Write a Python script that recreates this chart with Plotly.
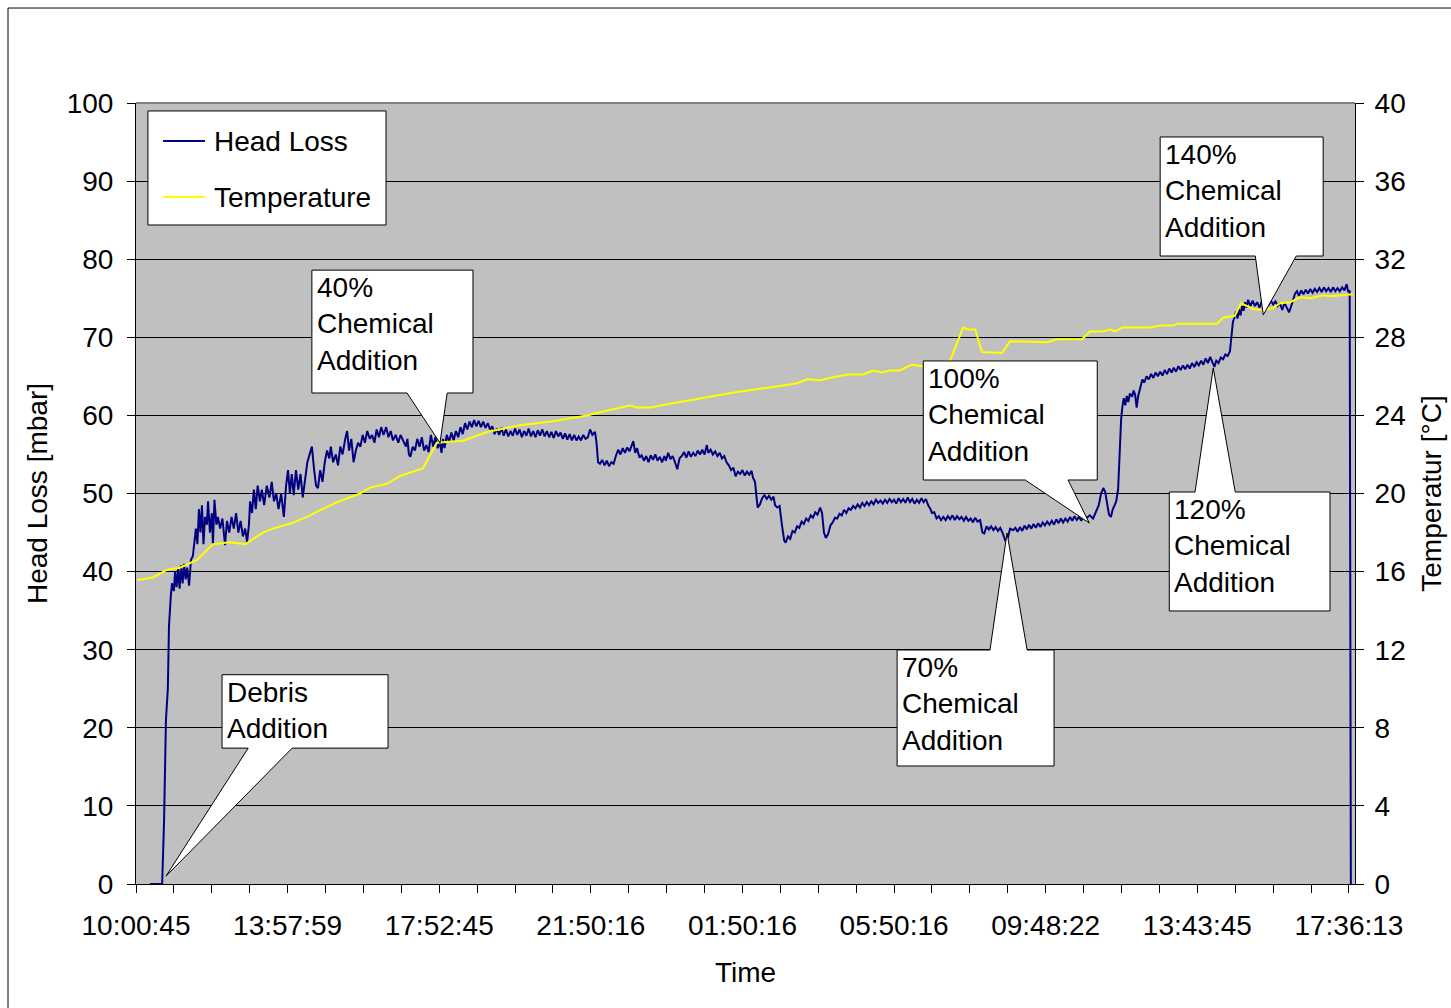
import plotly.graph_objects as go

# ---------------- axis labels ----------------
tick_labels = ["10:00:45", "13:57:59", "17:52:45", "21:50:16", "01:50:16",
               "05:50:16", "09:48:22", "13:43:45", "17:36:13"]
tick_hours = [0, 4, 8, 12, 16, 20, 24, 28, 32]
minor_tick_hours = list(range(0, 33))

# ---------------- Head Loss [mbar] (hours since 10:00:45, value) ----------------
hl_start = [
    (0.37, 0), (0.63, 0), (0.69, 0), (0.74, 8), (0.79, 21), (0.84, 25), (0.87, 33),
    (0.92, 37), (0.95, 38.5), (1.00, 37.5), (1.03, 40), (1.07, 38), (1.11, 40.5),
    (1.15, 37.8), (1.19, 40.8), (1.23, 38.5), (1.27, 41), (1.31, 39), (1.35, 40.5),
    (1.40, 38.2), (1.45, 41.5), (1.50, 42), (1.55, 44), (1.58, 45.5), (1.62, 43.5),
    (1.66, 48), (1.70, 45), (1.74, 48.5), (1.78, 43.5), (1.82, 47), (1.87, 46),
    (1.90, 49), (1.95, 45), (2.00, 47.5), (2.03, 43.5), (2.07, 49.2), (2.12, 46),
    (2.16, 47), (2.22, 45.5), (2.28, 46.8), (2.35, 43.4), (2.40, 46.5), (2.46, 45),
    (2.52, 47), (2.58, 45.5), (2.64, 47.5), (2.70, 45), (2.76, 46.5), (2.82, 44.5),
    (2.88, 45.5), (2.93, 43.8), (2.98, 46), (3.01, 49), (3.06, 47.5), (3.11, 50.5),
    (3.16, 48), (3.21, 51), (3.27, 49), (3.32, 50.5), (3.38, 48.5), (3.45, 51),
    (3.52, 49.5), (3.58, 51.5), (3.64, 49), (3.70, 50), (3.76, 48), (3.83, 50),
    (3.90, 47), (3.96, 51), (4.01, 53), (4.06, 50), (4.11, 52.5), (4.16, 49.8),
    (4.22, 53), (4.28, 50.5), (4.34, 52.5), (4.40, 49.5), (4.46, 51.5), (4.52, 54),
    (4.58, 55), (4.64, 56), (4.70, 53), (4.75, 51), (4.80, 50.7), (4.86, 53),
    (4.92, 51.5), (4.98, 54), (5.04, 55.5), (5.10, 54.5), (5.14, 56), (5.20, 54),
    (5.27, 55), (5.33, 53.6), (5.39, 56), (5.45, 55), (5.52, 57), (5.57, 58),
    (5.62, 55.5), (5.68, 57), (5.74, 54), (5.80, 55.5), (5.86, 56.5), (5.92, 56),
    (5.98, 57.5), (6.04, 56.5), (6.10, 58), (6.17, 57), (6.23, 57.5), (6.29, 56.5),
    (6.35, 58.2), (6.41, 57.2), (6.47, 58.5), (6.53, 57.5), (6.60, 58.5), (6.66, 57.2),
    (6.72, 58), (6.78, 56.8), (6.85, 57.5), (6.92, 56.5), (6.98, 57.5), (7.05, 56.8),
    (7.12, 56), (7.16, 57), (7.20, 55), (7.24, 54.7), (7.30, 56), (7.36, 55.5),
    (7.42, 57), (7.48, 56), (7.54, 57.2), (7.60, 55.5), (7.66, 56.2), (7.72, 55.3),
    (7.78, 57.5), (7.84, 56), (7.90, 57.2), (7.96, 55.8),
]
hl_plateau = [
    (8.02, 56.6), (8.06, 55.2), (8.10, 57), (8.14, 55.8), (8.20, 57.5), (8.26, 56.6),
    (8.32, 57.8), (8.38, 56.8), (8.44, 58), (8.50, 57.2), (8.56, 58.5), (8.62, 57.6),
    (8.68, 59), (8.74, 58.2), (8.80, 59.2), (8.86, 58.5), (8.92, 59.4), (8.98, 58.6),
    (9.04, 59.3), (9.10, 58.5), (9.16, 59.2), (9.22, 58.4), (9.28, 59), (9.34, 58.2),
    (9.40, 58.6), (9.46, 57.6), (9.52, 58.3), (9.58, 57.5), (9.64, 58.4), (9.70, 57.4),
    (9.76, 58.2), (9.82, 57.3), (9.88, 58), (9.94, 57.4), (10.00, 58.3), (10.06, 57.5),
    (10.12, 58.2), (10.18, 57.2), (10.24, 58), (10.30, 57.4), (10.36, 58.3), (10.42, 57.3),
    (10.48, 58), (10.54, 57.2), (10.60, 58.1), (10.66, 57.4), (10.72, 58.2), (10.78, 57.3),
    (10.84, 58), (10.90, 57.2), (10.96, 57.9), (11.02, 57.1), (11.08, 58), (11.14, 57.3),
    (11.20, 57.8), (11.26, 57), (11.32, 57.7), (11.38, 56.9), (11.44, 57.6), (11.50, 56.8),
    (11.56, 57.5), (11.62, 56.8), (11.68, 57.3), (11.74, 56.8), (11.80, 57.5), (11.86, 57),
    (11.92, 57.2), (11.98, 58.2), (12.04, 57.5), (12.11, 57.9),
]
hl_decline = [
    (12.15, 56.5), (12.19, 54), (12.24, 53.8), (12.30, 54.3), (12.36, 53.6), (12.42, 54.2),
    (12.48, 53.5), (12.54, 54), (12.60, 53.8), (12.66, 54.8), (12.72, 55.6), (12.78, 55),
    (12.84, 55.8), (12.90, 55.2), (12.96, 55.9), (13.02, 55.4), (13.08, 56.1), (13.12, 56.7),
    (13.17, 55.2), (13.22, 55.8), (13.28, 54.6), (13.34, 54.9), (13.40, 54.2), (13.46, 54.8),
    (13.52, 54), (13.58, 54.9), (13.64, 54.3), (13.70, 55), (13.76, 54.2), (13.82, 54.7),
    (13.88, 54), (13.94, 54.8), (13.98, 54.2), (14.04, 55.2), (14.10, 54.4), (14.16, 54.8),
    (14.22, 54), (14.28, 53.1), (14.34, 54.5), (14.40, 54.8), (14.46, 55.3), (14.52, 54.6),
    (14.58, 55.4), (14.64, 54.7), (14.70, 55.2), (14.76, 54.8), (14.82, 55.5), (14.88, 55),
    (14.94, 55.6), (15.00, 55), (15.06, 56.2), (15.10, 55.2), (15.16, 55.6), (15.22, 55),
    (15.28, 55.4), (15.34, 54.8), (15.40, 55.2), (15.46, 54.5), (15.52, 54.8), (15.58, 54),
    (15.64, 53.6), (15.70, 53), (15.76, 53.3), (15.82, 52.2), (15.88, 52.8), (15.94, 52.5),
    (16.00, 53), (16.06, 52.3), (16.12, 52.8), (16.18, 52.4), (16.24, 52.9), (16.28, 52),
    (16.33, 51.5), (16.37, 49), (16.40, 48.2), (16.46, 48.6), (16.52, 49.4), (16.58, 49.8),
    (16.64, 49.3), (16.70, 49.7), (16.76, 49.2), (16.82, 49.6), (16.86, 48.5), (16.92, 48.2),
    (16.98, 48.4), (17.04, 46), (17.10, 44), (17.14, 43.7), (17.20, 44.5), (17.26, 44.2),
    (17.32, 45.2), (17.38, 45), (17.44, 45.8), (17.50, 45.6), (17.56, 46.4), (17.62, 46.1),
    (17.68, 46.8), (17.74, 46.5), (17.80, 47.2), (17.86, 46.9), (17.92, 47.6), (17.98, 47.3),
    (18.05, 48.2), (18.10, 47.5), (18.15, 45), (18.20, 44.3), (18.26, 44.8), (18.32, 45.9),
    (18.38, 46.3), (18.44, 46.9), (18.50, 46.8), (18.56, 47.4), (18.62, 47.2), (18.68, 47.9),
    (18.74, 47.5), (18.80, 48.1), (18.86, 47.9), (18.92, 48.4), (18.98, 48.1), (19.04, 48.6),
    (19.10, 48.2), (19.16, 48.8), (19.22, 48.4), (19.28, 48.9), (19.34, 48.5), (19.40, 49),
    (19.46, 48.6), (19.52, 49.2), (19.58, 48.8), (19.64, 49.1), (19.70, 48.7), (19.76, 49.2),
    (19.82, 48.8), (19.88, 49.3), (19.94, 48.9), (20.00, 49.2), (20.06, 48.7), (20.12, 49.4),
    (20.18, 48.9), (20.24, 49.3), (20.30, 48.8), (20.36, 49.5), (20.42, 48.9), (20.48, 49.3),
    (20.54, 48.7), (20.60, 49.2), (20.66, 48.8), (20.72, 49.4), (20.78, 48.9), (20.84, 49.3),
    (20.90, 48.5), (20.96, 48), (21.00, 47.5), (21.06, 47.6), (21.12, 46.8), (21.18, 47.1),
    (21.24, 46.6), (21.30, 47), (21.36, 46.6), (21.42, 47.1), (21.48, 46.7), (21.54, 47.2),
    (21.60, 46.6), (21.66, 47.1), (21.72, 46.7), (21.78, 47), (21.84, 46.5), (21.90, 47),
    (21.96, 46.5), (22.02, 46.8), (22.08, 46.3), (22.14, 46.9), (22.20, 46.4), (22.27, 46.6),
    (22.33, 45), (22.38, 44.9), (22.44, 45.8), (22.50, 45.4), (22.56, 45.8), (22.62, 45.3),
    (22.68, 45.7), (22.74, 45.2), (22.80, 45.6), (22.86, 45), (22.93, 44), (23.00, 44.3),
]
hl_recovery = [
    (23.06, 45.5), (23.14, 45.3), (23.20, 45.6), (23.26, 45.1), (23.32, 45.7), (23.38, 45.2),
    (23.44, 45.9), (23.50, 45.4), (23.56, 46), (23.62, 45.5), (23.68, 46.1), (23.74, 45.6),
    (23.80, 46.2), (23.86, 45.7), (23.92, 46.3), (23.98, 45.9), (24.04, 46.4), (24.10, 46),
    (24.16, 46.5), (24.22, 46), (24.28, 46.7), (24.34, 46.2), (24.40, 46.8), (24.46, 46.3),
    (24.52, 46.8), (24.58, 46.4), (24.64, 47), (24.70, 46.5), (24.76, 47.1), (24.82, 46.6),
    (24.88, 47), (24.94, 46.5), (25.00, 47.2), (25.09, 46.9), (25.16, 47.2), (25.25, 46.8),
    (25.32, 47.5), (25.40, 48.5), (25.46, 50), (25.52, 50.7), (25.57, 50.2), (25.62, 48.5),
    (25.67, 47.3), (25.72, 47), (25.77, 48), (25.82, 48.5), (25.86, 49), (25.91, 50.5),
    (25.95, 56), (25.99, 59.5), (26.02, 61), (26.06, 62.2), (26.10, 61.3), (26.14, 62.5),
    (26.18, 61.7), (26.22, 62.8), (26.28, 62.4), (26.32, 63.2), (26.36, 62.6), (26.40, 61),
    (26.44, 62.5), (26.50, 63.8), (26.55, 64.6), (26.60, 64.2), (26.66, 65), (26.72, 64.6),
    (26.78, 65.3), (26.84, 64.8), (26.90, 65.5), (26.96, 65), (27.02, 65.6), (27.08, 65.1),
    (27.14, 65.8), (27.20, 65.3), (27.26, 66), (27.32, 65.5), (27.38, 66.1), (27.44, 65.6),
    (27.50, 66.3), (27.56, 65.8), (27.62, 66.4), (27.68, 65.9), (27.74, 66.5), (27.80, 66),
    (27.86, 66.7), (27.92, 66.2), (27.98, 66.8), (28.04, 66.4), (28.10, 67), (28.16, 66.5),
    (28.22, 67.3), (28.28, 66.7), (28.34, 67.5), (28.40, 66.8), (28.45, 66.2), (28.50, 67),
    (28.56, 66.7), (28.62, 67.4), (28.68, 67.2), (28.74, 67.8), (28.80, 67.6), (28.86, 68.2),
]
hl_final = [
    (28.90, 70), (28.94, 72), (28.98, 72.5), (29.02, 73.3), (29.06, 72.4), (29.10, 73.6),
    (29.14, 72.8), (29.18, 74), (29.22, 73.4), (29.26, 74.5), (29.30, 73.8), (29.34, 74.8),
    (29.40, 74), (29.46, 74.7), (29.52, 74), (29.58, 74.5), (29.64, 73.8), (29.70, 74.6),
    (29.76, 74), (29.82, 74.8), (29.88, 74.1), (29.94, 74.7), (30.00, 74.2), (30.06, 74.6),
    (30.12, 74), (30.18, 74.4), (30.24, 73.5), (30.30, 74.4), (30.36, 73.8), (30.42, 73.2),
    (30.47, 73.9), (30.53, 74.8), (30.58, 75.6), (30.63, 75.9), (30.68, 75.3), (30.74, 76),
    (30.80, 75.5), (30.86, 76.1), (30.92, 75.6), (30.98, 76.2), (31.04, 75.7), (31.10, 76.2),
    (31.16, 75.8), (31.22, 76.3), (31.28, 75.8), (31.34, 76.4), (31.40, 75.9), (31.46, 76.3),
    (31.52, 75.8), (31.58, 76.4), (31.64, 75.9), (31.70, 76.3), (31.76, 75.9), (31.82, 76.4),
    (31.88, 76), (31.94, 76.8), (31.98, 75.8), (32.02, 76), (32.05, 0),
]

# ---------------- Temperature [°C] ----------------
temp_points = [
    (0.03, 15.57), (0.45, 15.7), (0.82, 16.1), (1.16, 16.2), (1.61, 16.6), (2.03, 17.4),
    (2.48, 17.5), (2.88, 17.4), (3.35, 18.0), (3.61, 18.2), (4.14, 18.5), (4.51, 18.8),
    (4.86, 19.15), (5.30, 19.55), (5.91, 20.0), (6.17, 20.3), (6.62, 20.5), (6.97, 20.9),
    (7.57, 21.3), (7.76, 22.0), (7.94, 22.6), (8.28, 22.65), (8.63, 22.7), (9.26, 23.15),
    (10.13, 23.5), (11.00, 23.7), (11.90, 24.0), (12.32, 24.2), (13.03, 24.5), (13.22, 24.4),
    (13.56, 24.4), (14.09, 24.6), (14.96, 24.9), (15.86, 25.2), (16.99, 25.5), (17.44, 25.65),
    (17.70, 25.85), (18.05, 25.8), (18.39, 25.95), (18.76, 26.1), (19.18, 26.1), (19.45, 26.3),
    (19.68, 26.2), (19.89, 26.3), (20.15, 26.3), (20.47, 26.6), (20.77, 26.5), (21.48, 26.8),
    (21.82, 28.5), (21.95, 28.4), (22.14, 28.4), (22.32, 27.25), (22.85, 27.2), (23.06, 27.8),
    (24.04, 27.75), (24.30, 27.9), (24.96, 27.9), (25.17, 28.3), (25.51, 28.3), (25.70, 28.4),
    (25.83, 28.3), (26.02, 28.5), (26.76, 28.5), (27.02, 28.6), (27.36, 28.6), (27.49, 28.7),
    (28.52, 28.7), (28.68, 29.0), (28.99, 29.1), (29.15, 29.75), (29.47, 29.45), (29.74, 29.4),
    (30.00, 29.5), (30.18, 29.75), (30.45, 29.8), (30.71, 30.05), (30.98, 30.0), (31.32, 30.15),
    (31.50, 30.1), (32.11, 30.2),
]

# ---------------- callouts (hours / mbar) ----------------
callouts = [
    dict(text="Debris<br>Addition", box=(2.27, 6.65, 17.4, 26.8), side="bottom",
         base=(2.96, 4.12), tip=(0.79, 1.0)),
    dict(text="40%<br>Chemical<br>Addition", box=(4.64, 8.89, 62.87, 78.6), side="bottom",
         base=(7.15, 8.21), tip=(8.02, 56.47)),
    dict(text="100%<br>Chemical<br>Addition", box=(20.77, 25.36, 51.73, 66.97), side="bottom",
         base=(23.46, 24.59), tip=(25.15, 46.22)),
    dict(text="70%<br>Chemical<br>Addition", box=(20.08, 24.22, 15.11, 29.96), side="top",
         base=(22.53, 23.51), tip=(22.98, 44.94)),
    dict(text="120%<br>Chemical<br>Addition", box=(27.26, 31.50, 34.96, 50.19), side="top",
         base=(27.94, 29.00), tip=(28.42, 66.07)),
    dict(text="140%<br>Chemical<br>Addition", box=(27.02, 31.32, 80.41, 95.65), side="bottom",
         base=(29.53, 30.61), tip=(29.74, 72.86)),
]

series_names = ["Head Loss", "Temperature"]
series_colors = ["#000080", "#FFFF00"]

FONT = "Liberation Sans, Arial, sans-serif"
FS = 28

hl_all = hl_start + hl_plateau + hl_decline + hl_recovery + hl_final

fig = go.Figure()
fig.add_trace(go.Scatter(
    x=[p[0] for p in hl_all], y=[p[1] for p in hl_all], mode="lines",
    name=series_names[0], line=dict(color=series_colors[0], width=2), showlegend=False,
))
fig.add_trace(go.Scatter(
    x=[p[0] for p in temp_points], y=[p[1] for p in temp_points], mode="lines",
    name=series_names[1], line=dict(color=series_colors[1], width=2), yaxis="y2",
    showlegend=False,
))

shapes = []
annotations = []
for c in callouts:
    x0, x1, y0, y1 = c["box"]
    b1, b2 = c["base"]
    tx, ty = c["tip"]
    if c["side"] == "bottom":
        path = (f"M {x0},{y1} L {x1},{y1} L {x1},{y0} L {b2},{y0} L {tx},{ty} "
                f"L {b1},{y0} L {x0},{y0} Z")
    else:
        path = (f"M {x0},{y0} L {x1},{y0} L {x1},{y1} L {b2},{y1} L {tx},{ty} "
                f"L {b1},{y1} L {x0},{y1} Z")
    shapes.append(dict(type="path", path=path, xref="x", yref="y",
                       fillcolor="white", line=dict(color="black", width=1), layer="above"))
    annotations.append(dict(x=x0, y=y1, xref="x", yref="y", text=c["text"],
                            showarrow=False, xanchor="left", yanchor="top", align="left",
                            xshift=3, yshift=0, font=dict(family=FONT, size=FS, color="black")))

# legend box (paper coordinates)
shapes.append(dict(type="rect", xref="paper", yref="paper", x0=0.0098, x1=0.2051,
                   y0=0.8438, y1=0.9898, fillcolor="white",
                   line=dict(color="black", width=1), layer="above"))
legend_rows_y = [0.9513, 0.8796]
for name, color, ly in zip(series_names, series_colors, legend_rows_y):
    shapes.append(dict(type="line", xref="paper", yref="paper", x0=0.0222, x1=0.0566,
                       y0=ly, y1=ly, line=dict(color=color, width=2), layer="above"))
    annotations.append(dict(x=0.0623, y=ly, xref="paper", yref="paper", text=name,
                            showarrow=False, xanchor="left", yanchor="middle",
                            font=dict(family=FONT, size=FS, color="black")))

# plot-area top border and chart-area frame
shapes.append(dict(type="line", xref="paper", yref="paper", x0=0, x1=1, y0=1, y1=1,
                   line=dict(color="#808080", width=2), layer="above"))
shapes.append(dict(type="rect", xref="paper", yref="paper", x0=-0.105, x1=1.09,
                   y0=-0.17, y1=1.1216, line=dict(color="black", width=1), layer="below"))

fig.update_layout(
    width=1451, height=1008,
    margin=dict(l=136, r=96, t=103, b=124),
    paper_bgcolor="white", plot_bgcolor="#C0C0C0",
    font=dict(family=FONT, size=FS, color="black"),
    template="none",
    showlegend=False,
    xaxis=dict(range=[0, 32.16], tickmode="array", tickvals=tick_hours, ticktext=tick_labels,
               ticks="outside", ticklen=8, tickcolor="black", tickwidth=1, ticklabelstandoff=8,
               showline=True, linecolor="black", linewidth=1, showgrid=False, zeroline=False,
               tickfont=dict(family=FONT, size=FS), automargin=False,
               minor=dict(tickmode="array", tickvals=minor_tick_hours, ticks="outside",
                          ticklen=8, tickcolor="black", tickwidth=1, showgrid=False),
               title=dict(text="Time", font=dict(family=FONT, size=FS), standoff=22)),
    yaxis=dict(range=[0, 100], tickmode="linear", tick0=0, dtick=10,
               ticks="outside", ticklen=8, tickcolor="black", ticklabelstandoff=8,
               showline=True, linecolor="black", linewidth=1,
               showgrid=True, gridcolor="black", gridwidth=1, zeroline=False,
               tickfont=dict(family=FONT, size=FS), automargin=False,
               title=dict(text="Head Loss [mbar]", font=dict(family=FONT, size=FS), standoff=10)),
    yaxis2=dict(range=[0, 40], tickmode="linear", tick0=0, dtick=4, overlaying="y", side="right",
                ticks="outside", ticklen=8, tickcolor="black", ticklabelstandoff=5,
                showline=True, linecolor="black", linewidth=1, showgrid=False, zeroline=False,
                tickfont=dict(family=FONT, size=FS), automargin=False,
                title=dict(text="Temperatur [°C]", font=dict(family=FONT, size=FS), standoff=16)),
    shapes=shapes,
    annotations=annotations,
)

fig.write_html("out.html")
